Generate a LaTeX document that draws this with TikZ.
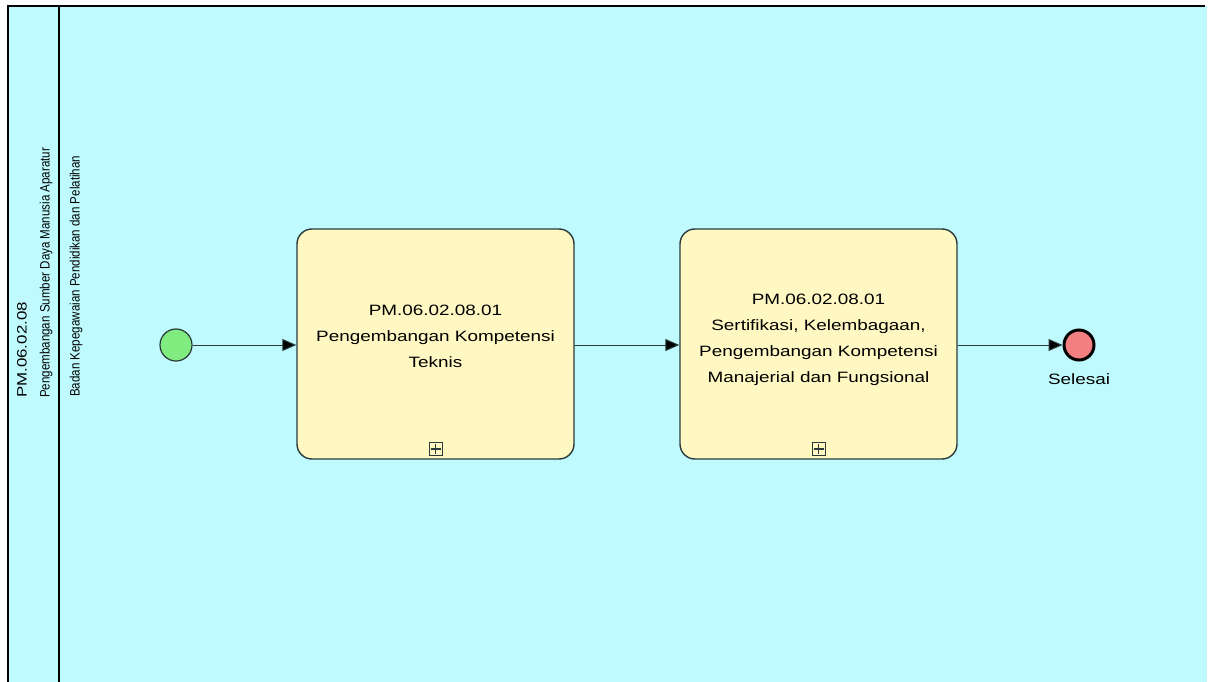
\documentclass[tikz,border=0pt]{standalone}
\usepackage{fontspec}
\setmainfont{Liberation Sans}
\newfontfamily\widefont[FakeStretch=1.26]{Liberation Sans}
\newfontfamily\tallfont[FakeStretch=0.85]{Liberation Sans}
\newfontfamily\poolfont[FakeStretch=1.24]{Liberation Sans}
\usetikzlibrary{arrows.meta}
\definecolor{lanebg}{HTML}{BFFBFE}
\definecolor{taskfill}{HTML}{FFF8C2}
\definecolor{startfill}{HTML}{80EC80}
\definecolor{endfill}{HTML}{F28080}
\definecolor{edge}{HTML}{2A3A3A}
\tikzset{
  task/.style={draw=edge, line width=1.4pt, fill=taskfill, rounded corners=15pt,
    minimum width=277pt, minimum height=230pt, inner sep=0pt},
  tasktext/.style={align=center, font=\widefont\fontsize{15}{26}\selectfont, inner sep=0pt},
  plusbox/.style={draw=edge, line width=0.9pt, fill=taskfill, minimum size=13pt, inner sep=0pt,
    path picture={\draw[line width=1.1pt] ([yshift=-1.5pt]path picture bounding box.north) -- ([yshift=1.5pt]path picture bounding box.south)
      ([xshift=1.5pt]path picture bounding box.west) -- ([xshift=-1.5pt]path picture bounding box.east);}},
  startev/.style={circle, draw=edge, line width=1.2pt, fill=startfill, minimum size=32pt, inner sep=0pt},
  endev/.style={circle, draw=black, line width=3pt, fill=endfill, minimum size=30pt, inner sep=0pt},
  flow/.style={draw=edge, line width=1pt, -{Triangle[length=14pt,width=12pt,fill=black]}},
  lanetext/.style={rotate=90, anchor=west, font=\tallfont\fontsize{13.6}{24}\selectfont, inner sep=0pt},
  pooltext/.style={rotate=90, anchor=west, font=\poolfont\fontsize{13.6}{24}\selectfont, inner sep=0pt},
  lbl/.style={font=\widefont\fontsize{15}{18}\selectfont, inner sep=0pt},
  border/.style={draw=black, line width=1.2pt}
}
\begin{document}
\begin{tikzpicture}[x=1pt,y=-1pt]
\useasboundingbox (0,0) rectangle (1211,682);
\fill[white] (0,0) rectangle (1211,682);
\fill[lanebg] (8,6) rectangle (1207,682);
\draw[border] (8,682) -- (8,6) -- (1205,6);
\draw[border] (59,6) -- (59,682);
\node[pooltext] (pool1) at (22,398) {PM.06.02.08};
\node[lanetext] (pool2) at (46,398) {Pengembangan Sumber Daya Manusia Aparatur};
\node[lanetext] (lane1) at (76,397) {Badan Kepegawaian Pendidikan dan Pelatihan};
\node[task] (t1) at (435.5,344) {};
\node[task] (t2) at (818.5,344) {};
\node[tasktext] (t1txt) at ([yshift=8pt]t1.center) {PM.06.02.08.01\\Pengembangan Kompetensi\\Teknis};
\node[tasktext] (t2txt) at ([yshift=4pt]t2.center) {PM.06.02.08.01\\Sertifikasi, Kelembagaan,\\Pengembangan Kompetensi\\Manajerial dan Fungsional};
\node[plusbox] (p1) at (435.5,449) {};
\node[plusbox] (p2) at (818.5,449) {};
\node[startev] (s) at (176,345) {};
\node[endev] (e) at (1079,345) {};
\node[lbl] (el) at (1079,379) {Selesai};
\draw[flow] (s) -- (t1.west |- s);
\draw[flow] (t1.east |- s) -- (t2.west |- s);
\draw[flow] (t2.east |- s) -- (e);
\end{tikzpicture}
\end{document}
